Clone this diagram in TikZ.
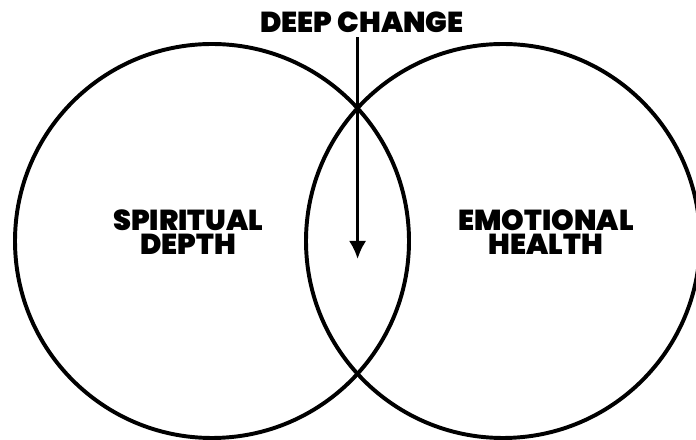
\documentclass[tikz,border=0pt]{standalone}
\usepackage{fontspec}
\usepackage{tikz}
\usetikzlibrary{arrows.meta}
\newfontfamily\heavy{Poppins}[UprightFont={* Black}]
\definecolor{ink}{HTML}{000000}

\begin{document}
\begin{tikzpicture}[>={Latex[length=0.45cm,width=0.43cm]},
  label/.style={font=\heavy\fontsize{20.5}{17.5}\selectfont,align=center,ink}]
  \useasboundingbox (0,0) rectangle (17.4,11);
  \clip (0,0) rectangle (17.4,11);
  \draw[ink,line width=2.8pt] (5.3,4.975) circle (4.925);
  \draw[ink,line width=2.8pt] (12.575,4.975) circle (4.925);
  \node[label] (spirit) at (4.7,5.2) {SPIRITUAL\\DEPTH};
  \node[label] (health) at (13.65,5.2) {EMOTIONAL\\HEALTH};
  \node[label] (change) at (9.05,10.45) {DEEP CHANGE};
  \coordinate (tip) at (8.94,4.525);
  \draw[->,ink,line width=2.1pt] (tip |- change.south) -- (tip);
\end{tikzpicture}
\end{document}
